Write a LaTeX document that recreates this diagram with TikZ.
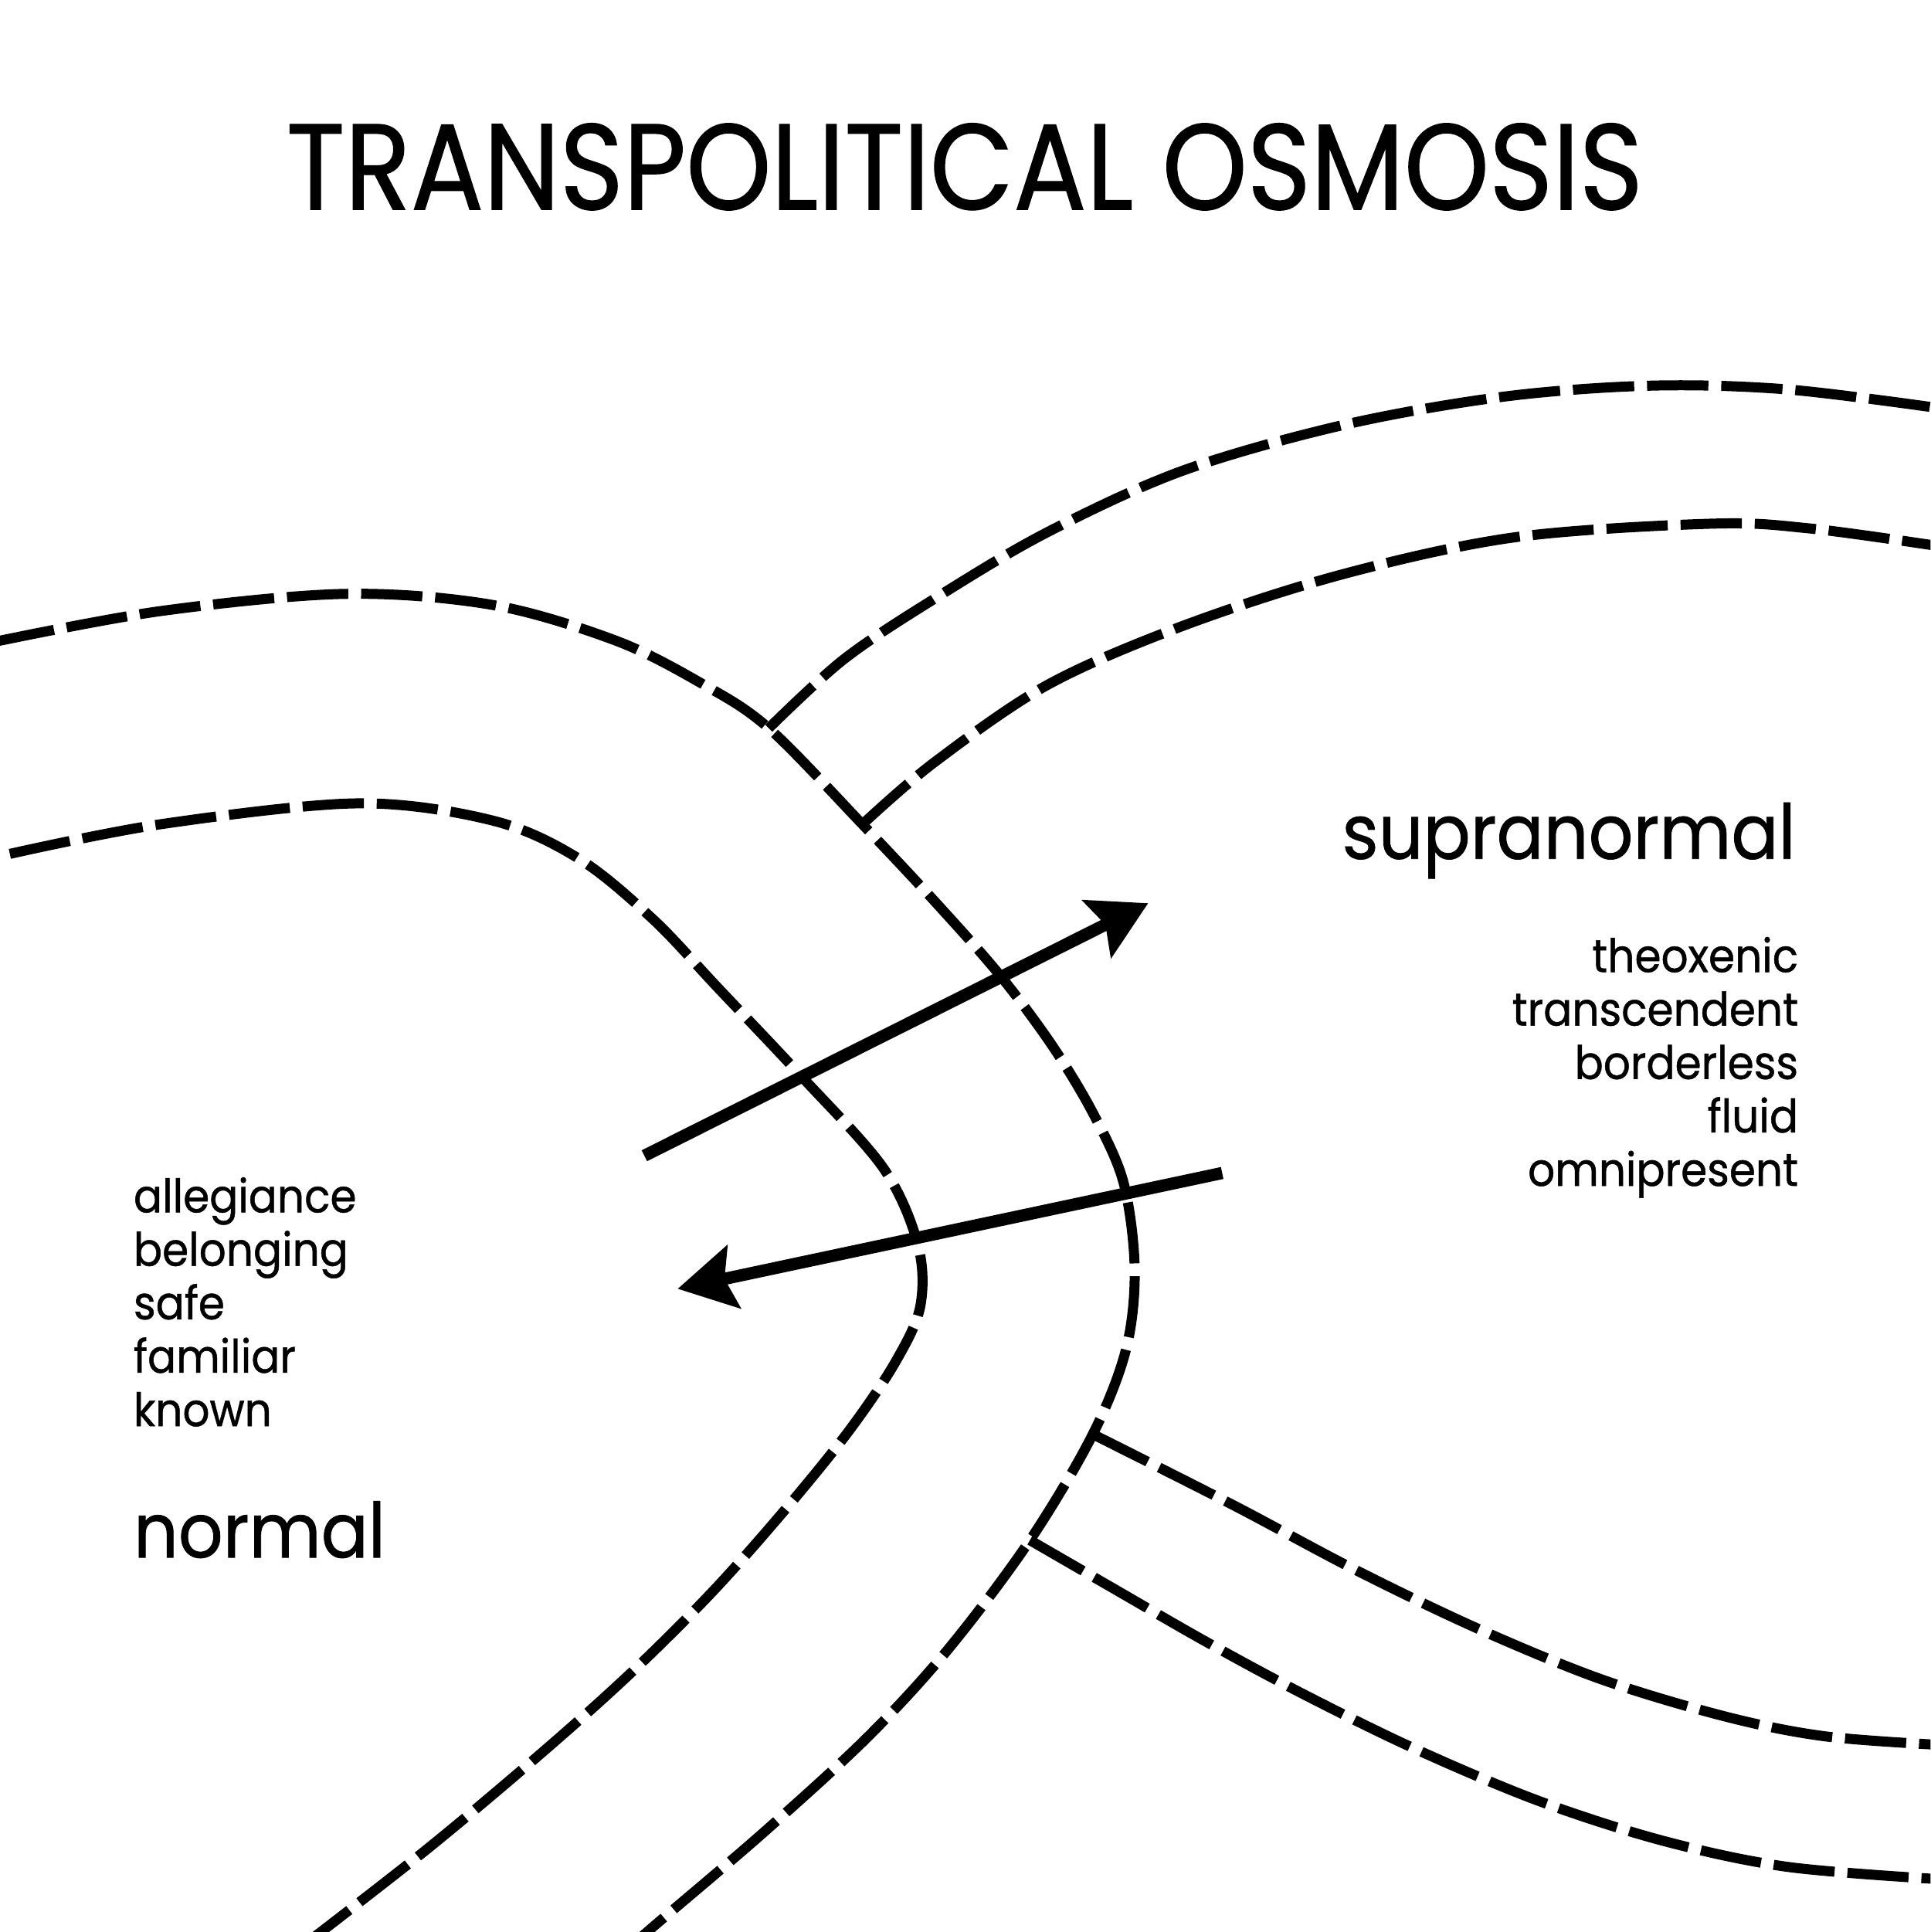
\documentclass[tikz,border=0pt]{standalone}
\usepackage{fontspec}
\setmainfont{Poppins}[FakeStretch=0.92, FakeBold=0.8]
\newfontfamily\headfont{Poppins}[FakeStretch=0.887, FakeBold=0.8]
\usetikzlibrary{arrows.meta}
\tikzset{
  border/.style={line width=3.7pt, dash pattern=on 22.6pt off 4.75pt},
  flow/.style={line width=4.5pt, -{Stealth[length=0.74cm, width=0.82cm, inset=0.12cm]}},
  heading/.style={inner sep=0pt, font=\headfont\fontsize{45}{50}\selectfont},
  zonelabel/.style={inner sep=0pt, font=\fontsize{28}{32}\selectfont},
  traitlist/.style={inner sep=0pt, font=\fontsize{17}{19.7}\selectfont}
}

\begin{document}
\begin{tikzpicture}[x=0.015954cm, y=-0.015954cm]
  \useasboundingbox (0,0) rectangle (1567,1568);
  \fill[white] (0,0) rectangle (1567,1568);

  \node[heading, anchor=base] (title) at (783,170) {TRANSPOLITICAL OSMOSIS};

  \coordinate (jC) at (624,591);
  \coordinate (jD) at (700,669);
  \coordinate (jE) at (887,1164);
  \coordinate (jF) at (836,1250);

  \begin{scope}
    \clip (0,0) rectangle (1567,1568);
    \draw[border] plot[smooth, tension=0.55] coordinates {
      (-5,521) (130,496) (280,482) (400,491) (500,520) (570,555) (jC) (jD)
      (760,733) (812,792) (855,850) (888,905) (912,960) (921,1030) (914,1095)
      (jE) (jF) (770,1338) (704,1410) (620,1487) (531,1563) (500,1590)};
    \draw[border] plot[smooth, tension=0.55] coordinates {
      (8,693) (130,669) (290,652) (400,666) (470,697) (530,746) (583,802)
      (650,873) (717,948) (745,1010) (747,1060) (727,1105) (690,1160)
      (640,1222) (580,1290) (515,1355) (445,1418) (350,1498) (250,1576)};
    \draw[border] plot[smooth, tension=0.55] coordinates {
      (jC) (685,535) (760,485) (850,432) (960,382) (1090,345) (1220,322)
      (1340,313) (1450,316) (1572,331)};
    \draw[border] plot[smooth, tension=0.55] coordinates {
      (jD) (758,619) (850,556) (960,508) (1090,466) (1230,436) (1390,425)
      (1470,429) (1572,443)};
    \draw[border] plot[smooth, tension=0.55] coordinates {
      (jE) (1000,1221) (1100,1274) (1200,1322) (1300,1363) (1400,1393)
      (1480,1409) (1572,1416)};
    \draw[border] plot[smooth, tension=0.55] coordinates {
      (jF) (900,1287) (980,1333) (1060,1376) (1150,1420) (1250,1462)
      (1350,1494) (1450,1515) (1572,1525)};
  \end{scope}

  \coordinate (outStart) at (523,938);
  \coordinate (outTip) at (932,733);
  \coordinate (inStart) at (992,952);
  \coordinate (inTip) at (550,1046);
  \draw[flow] (outStart) -- (outTip);
  \draw[flow] (inStart) -- (inTip);

  \node[zonelabel, anchor=base east] (supra) at (1458,697) {supranormal};
  \node[traitlist, align=right, anchor=north east] (supratraits) at (1460,760)
        {theoxenic\\transcendent\\borderless\\fluid\\omnipresent};
  \node[traitlist, align=left, anchor=north west] (normtraits) at (108,955)
        {allegiance\\belonging\\safe\\familiar\\known};
  \node[zonelabel, anchor=base west] (norm) at (108,1264) {normal};
\end{tikzpicture}
\end{document}
